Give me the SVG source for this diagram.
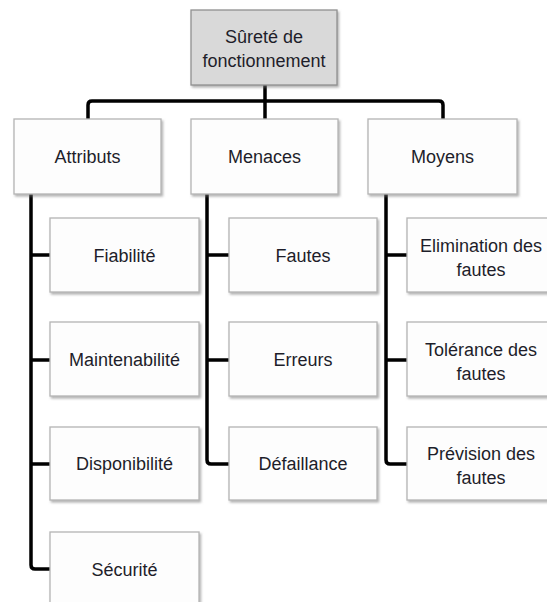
<svg xmlns="http://www.w3.org/2000/svg" width="547" height="602" viewBox="0 0 547 602">
<defs>
<filter id="sh" x="-10%" y="-10%" width="120%" height="130%">
<feDropShadow dx="1.5" dy="2" stdDeviation="1" flood-color="#777" flood-opacity="0.55"/>
</filter>
<style>
.box{fill:#fdfdfd;stroke:#b4b4b4;stroke-width:1.3;filter:url(#sh)}
.root{fill:#d9d9d9;stroke:#909090;stroke-width:1.3;filter:url(#sh)}
text{font-family:"Liberation Sans","DejaVu Sans",sans-serif;font-size:18px;fill:#1e1e2a;text-anchor:middle}
.ln{fill:none;stroke:#000;stroke-width:3.5;stroke-linejoin:round;stroke-linecap:butt}
</style>
</defs>
<rect width="547" height="602" fill="#fff"/>
<g id="connectors">
<path class="ln" d="M265,85 V119"/>
<path class="ln" d="M88,119 V105 Q88,101 92,101 H439 Q443,101 443,105 V119"/>
<path class="ln" d="M31,194 V565 Q31,569 35,569 H50"/>
<path class="ln" d="M31,255 H50 M31,360 H50 M31,464 H50"/>
<path class="ln" d="M207,194 V460 Q207,464 211,464 H229"/>
<path class="ln" d="M207,255 H229 M207,360 H229"/>
<path class="ln" d="M386,194 V460 Q386,464 390,464 H407"/>
<path class="ln" d="M386,255 H407 M386,360 H407"/>
</g>
<g id="surete"><rect class="root" x="191" y="10" width="146" height="75"/><text x="264" y="43">Sûreté de</text><text x="264" y="67">fonctionnement</text></g>
<g id="attributs"><rect class="box" x="14" y="119" width="147" height="75"/><text x="87.5" y="163">Attributs</text></g>
<g id="menaces"><rect class="box" x="191" y="119" width="147" height="75"/><text x="264.5" y="163">Menaces</text></g>
<g id="moyens"><rect class="box" x="368" y="119" width="149" height="75"/><text x="442.5" y="163">Moyens</text></g>
<g id="fiabilite"><rect class="box" x="50" y="218" width="149" height="74"/><text x="124.5" y="262">Fiabilité</text></g>
<g id="maintenabilite"><rect class="box" x="50" y="322" width="149" height="74"/><text x="124.5" y="366">Maintenabilité</text></g>
<g id="disponibilite"><rect class="box" x="50" y="427" width="149" height="73"/><text x="124.5" y="470">Disponibilité</text></g>
<g id="securite"><rect class="box" x="50" y="532" width="149" height="74"/><text x="124.5" y="576">Sécurité</text></g>
<g id="fautes"><rect class="box" x="229" y="218" width="148" height="74"/><text x="303" y="262">Fautes</text></g>
<g id="erreurs"><rect class="box" x="229" y="322" width="148" height="74"/><text x="303" y="366">Erreurs</text></g>
<g id="defaillance"><rect class="box" x="229" y="427" width="148" height="73"/><text x="303" y="470">Défaillance</text></g>
<g id="elimination"><rect class="box" x="407" y="218" width="148" height="74"/><text x="481" y="252">Elimination des</text><text x="481" y="276">fautes</text></g>
<g id="tolerance"><rect class="box" x="407" y="322" width="148" height="74"/><text x="481" y="356">Tolérance des</text><text x="481" y="380">fautes</text></g>
<g id="prevision"><rect class="box" x="407" y="427" width="148" height="73"/><text x="481" y="460">Prévision des</text><text x="481" y="484">fautes</text></g>
</svg>
